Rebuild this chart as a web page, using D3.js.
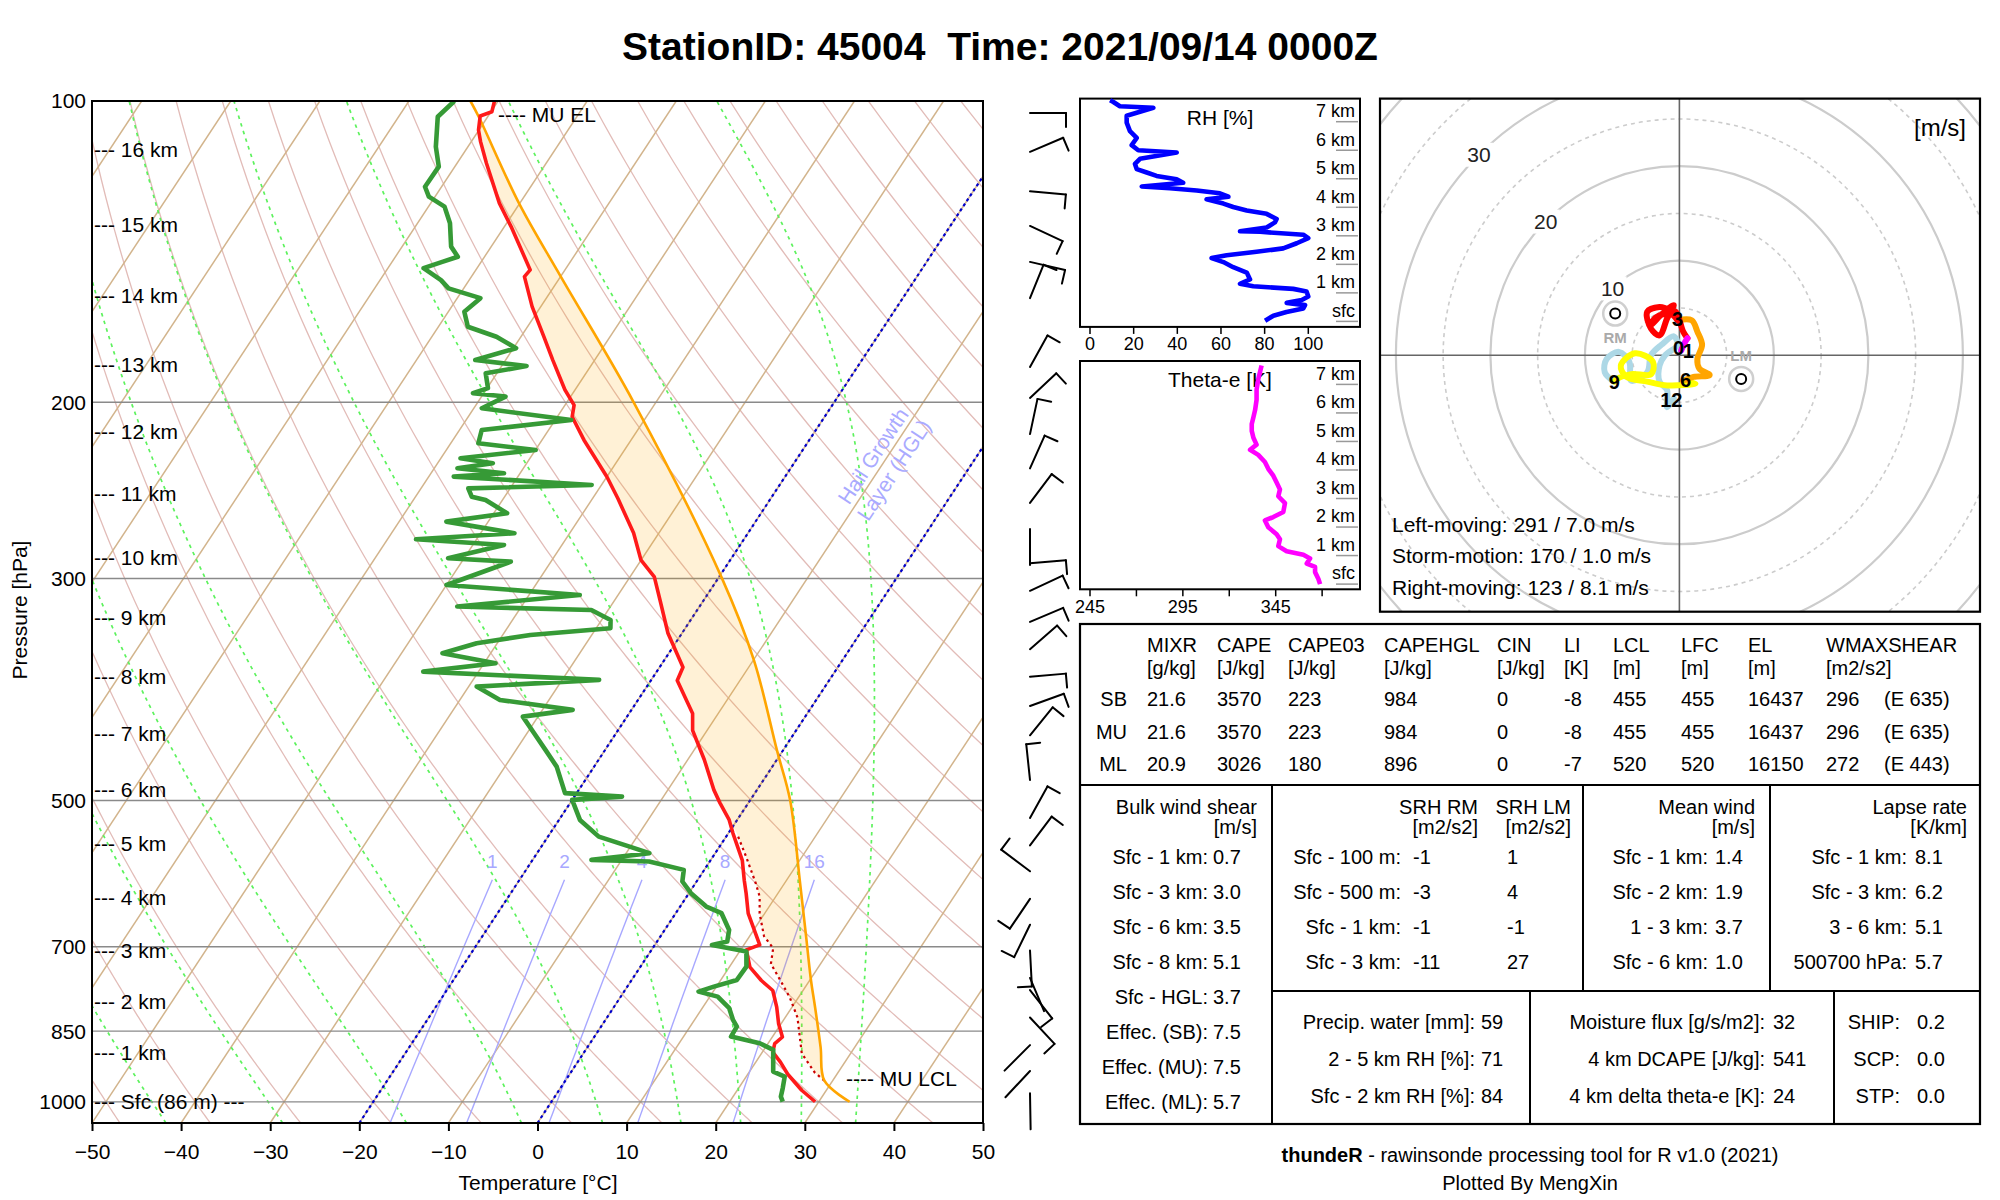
<!DOCTYPE html>
<html><head><meta charset="utf-8">
<script src="https://cdn.jsdelivr.net/npm/d3@7"></script>
<style>body{margin:0;background:#fff}svg text{font-family:"Liberation Sans",Arial,Helvetica,sans-serif;white-space:pre}</style>
</head><body>
<svg id="c" width="2000" height="1200" xmlns="http://www.w3.org/2000/svg"></svg>
<script>
// ================= DATA =================
const titleText = "StationID: 45004  Time: 2021/09/14 0000Z";
const pressureTicks = [100,200,300,500,700,850,1000];
const isobarLevels = [200,300,500,700,850,1000];
const tempTicks = [-50,-40,-30,-20,-10,0,10,20,30,40,50];
const heightLabels = ["16 km","15 km","14 km","13 km","12 km","11 km","10 km","9 km","8 km","7 km","6 km","5 km","4 km","3 km","2 km","1 km","Sfc (86 m) ---"];
const heightLabelP = [111.9,133,156.6,183.5,213.9,246.6,285.8,328.6,375.9,428.4,487.3,552.7,625,706.3,794.5,893.6,999.6];
const dryThetaC = d3.range(-50,221,10);
const isothermT = d3.range(-130,51,10);
const hglIsotherms = [-20,0];
const moistStartT = [-41.7,-28.6,-14.7,-1.8,7.3,16.1,22.8,29.6,35.7];
const mixRatios = [1,2,4,8,16];

// environmental temperature
const tempP = [100,102.5,103.5,106.9,109.8,115.4,126.5,133.5,147.5,149.8,160.5,171.9,181.6,194.3,201.3,206.8,218.1,237.4,249.6,270.2,287.6,298.9,315.4,340.3,367.9,379.3,409.3,425.4,455.2,487.9,502.7,522.8,539.2,573.7,600.6,619.3,648.3,673,697,705.1,733.5,756.5,774.1,804.3,835.6,861.5,874.9,892.1,912.9,938.5,973.8,999.9];
const tempT = [-80.4,-79.9,-80.9,-80.05,-78.96,-76.7,-72.3,-69.25,-63.9,-64.05,-60.97,-57.46,-54.67,-51.15,-48.98,-48.33,-45.3,-40.0,-37.15,-32.84,-30.0,-27.27,-24.9,-21.57,-17.38,-17.04,-12.87,-11.63,-8.14,-4.84,-3.2,-0.9,0.52,3.56,5.25,6.45,8.15,10.02,11.77,10.64,12.31,14.59,16.61,18.28,19.72,21.13,20.76,21.17,22.77,24.48,27.23,29.59];
// dew point
const dewP = [100,103.7,111.1,116.3,121.8,124.6,127.5,132.5,139.8,143.1,144.7,146.9,151,153.9,157.4,162.4,168.1,172,176.6,181.5,184,187.1,193.6,195.9,197.4,202.8,208.3,213.2,219.8,223.2,227.5,230.1,232.8,235.5,237.3,241.9,243.8,248.5,250.4,258.2,263.2,270.3,274.1,277.7,286.3,288.6,304.5,311.6,320,322.5,330,336.4,341.6,348.2,356.3,364.6,371.7,378.8,384.7,396.7,405.9,412.2,428.3,445,462.5,491.6,495.5,499.3,522.8,543.3,555.9,564.4,573.2,575.4,586.5,602.4,618.8,638.2,648,673.4,691.7,697,702.3,707.8,732.6,755.5,767.2,776.1,785.1,806.3,828.3,841.2,860.7,873.9,887.4,911.6,932.8,943.6,969.2,988.1,999.5];
const dewT = [-84.9,-85.6,-83.6,-81.8,-81.86,-80.7,-78.2,-76.35,-74.5,-73.0,-74.3,-76.0,-73.16,-71.7,-67.4,-68.2,-66.7,-62.75,-59.7,-63.4,-57.2,-61.25,-59.9,-61.2,-57.3,-59.1,-48.2,-57.5,-56.9,-49.97,-57.8,-53.8,-57.4,-51.8,-57.2,-41.1,-54.7,-53.7,-51.9,-48.5,-54.7,-46.2,-56.8,-46.5,-51.8,-44.5,-50.0,-34.3,-47.2,-31.9,-29.0,-28.4,-36.9,-42.3,-45.4,-38.7,-46.2,-25.85,-39.1,-35.5,-26.6,-31.7,-29.2,-26.7,-24.2,-21.3,-14.65,-20.0,-17.65,-14.3,-10.1,-7.4,-13.4,-6.8,-2.3,-1.6,0.23,2.94,5.14,7.23,7.88,6.41,8.6,10.77,11.88,11.8,9.71,8.36,10.88,13.03,14.32,15.25,15.33,19.04,21.05,21.91,22.65,24.31,24.95,25.36,25.94];
// virtual temperature (dotted)
const tvP = [952.6,934.7,894.6,855.4,823.6,786.7,756.5,727.9,702.4,683,648.3,623.8,605,569.3,539.2];
const tvT = [29.07,27.37,24.51,22.81,21.37,19.04,16.73,14.42,13.53,11.6,9.43,8.2,6.78,3.75,0.95];
// most-unstable parcel
const parcelP = [999.9,952.6,882,804,756.5,683,628.3,600.6,499.7,445.3,362,298.9,200,149.8,126.5,103.7,100];
const parcelT = [33.46,29.07,26.17,22.57,20.16,16.32,13.18,11.48,4.49,-0.7,-9.94,-19.75,-42.5,-59.97,-70.1,-81.0,-83.1];
const muLclP = 952.6, muElP = 103.7;

// wind barbs
const barbP = [102.8,112.4,123.1,133.3,144.8,157.4,184.4,198,215.2,232.9,252.1,289.7,290.8,308.6,331.5,353,376.1,402.3,430.3,476.9,520.4,554.3,588.4,626.9,665.4,706.1,752.1,773.3,823.8,877.8,931.5,980.8];
const barbDir = [90,67,95,115,103,22,29,47,12,24,37,85,0,65,67,49,85,70,39,354,29,37,307,214,206,177,157,142,137,225,223,179];
const barbSpd = [5,5,5,5,5,5,5,5,5,5,5,5,2,5,5,5,5,5,5,5,5,5,5,5,5,5,2,5,5,2,2,2];

// RH profile
const rhH = [0.02,0.2,0.33,0.45,0.57,0.65,0.75,0.87,1.05,1.14,1.23,1.32,1.47,1.71,1.9,2.08,2.22,2.32,2.44,2.56,2.74,2.92,3.04,3.14,3.16,3.29,3.47,3.59,3.77,3.89,4.01,4.13,4.28,4.37,4.49,4.59,4.67,4.73,4.86,4.98,5.1,5.22,5.34,5.52,5.7,5.92,6.0,6.18,6.43,6.67,6.97,7.21,7.49,7.54,7.69,7.75];
const rhV = [80.2,84,90,97.7,98.5,90.1,97,100,99.2,93.1,74.8,68.7,73.3,71.8,65.6,61.1,55.7,62.6,76.3,88.5,94.7,100,97.7,77.9,68.7,80.9,84.7,85.5,80.9,71.8,65.6,61.1,53.4,63.4,59.5,48.9,36.6,23.7,42.7,39.7,30.5,26,21.4,20.6,22.9,39.7,22.1,19.1,21.4,18.3,16.8,16.8,29,13.7,10.7,9.2];
const rhTicks = [0,20,40,60,80,100];
// theta-e profile
const theH = [0,0.18,0.42,0.6,0.72,0.9,1.03,1.15,1.33,1.57,1.75,1.99,2.23,2.35,2.53,2.84,3.08,3.32,3.56,3.8,4.04,4.28,4.53,4.71,4.89,5.13,5.37,5.61,5.85,6.1,6.46,6.82,7.18,7.66];
const theV = [368.9,368,366.2,366.2,361.7,363.5,359.9,350.9,346.4,347.3,345.5,341,339.2,343.7,349.1,350,346.4,347.3,345.5,343.7,341,339.2,335.6,331.2,334.7,333,332.1,332.1,333,333.9,334.7,334.7,335.6,337.4];
const theTicks = [245,270,295,320,345,370];
const theLabels = [245,295,345];
const kmLabels = ["sfc","1 km","2 km","3 km","4 km","5 km","6 km","7 km"];

// hodograph (m/s)
const hodo01U = [0.2,0.5,0.85], hodo01V = [0.5,1.2,1.8];
const hodo03U = [0.85,0.4,-0.4,-1.3,-2.1,-3.4,-3.0,-2.1,-1.3,-0.6,-1.9,-3.0,-2.5,-1.0,-0.2];
const hodo03V = [1.8,2.5,4.6,4.9,5.1,4.6,2.8,2.1,3.9,5.3,4.3,3.2,4.0,4.4,3.7];
const hodo36U = [-0.2,1.3,1.9,2.4,1.9,2.1,3.2,1.5,0.4];
const hodo36V = [3.7,3.7,2.5,1.1,-0.4,-1.4,-2.1,-2.3,-2.7];
const hodo69U = [0.4,1.7,-1.3,-3.4,-5.6,-6.2,-4.7,-2.8,-3.0,-5.1,-6.6,-6.9];
const hodo69V = [-2.7,-3.0,-3.2,-2.8,-2.3,-1.1,0.2,-0.7,-2.0,-2.0,-2.5,-2.8];
const hodo912U = [-6.9,-7.9,-7.7,-6.4,-5.3,-5.1,-3.4,-3.0,-1.9,-0.6,-0.2,-1.5,-2.1,-2.1,-1.3,-1.3,-0.6];
const hodo912V = [-2.8,-1.8,-0.4,0.35,-0.7,-2.7,-1.8,0,1.1,2.0,1.1,0,-1.1,-2.8,-3.7,-5.5,-4.6];
const hodoLabelText = ["0","1","3","6","9","12"];
const hodoLabelU = [-0.1,0.95,-0.2,0.64,-6.9,-0.85];
const hodoLabelV = [0.8,0.4,3.8,-2.65,-2.84,-4.7];
const hodoRings = [5,10,15,20,25,30,35,40];
const hodoRingLabels = [10,20,30];
const leftMoving = {dir:291, spd:7.0};
const stormMotion = {dir:170, spd:1.0};
const rightMoving = {dir:123, spd:8.1};

// table
const paramHeaders = ["MIXR","CAPE","CAPE03","CAPEHGL","CIN","LI","LCL","LFC","EL","WMAXSHEAR"];
const paramUnits = ["[g/kg]","[J/kg]","[J/kg]","[J/kg]","[J/kg]","[K]","[m]","[m]","[m]","[m2/s2]"];
const parcelNames = ["SB","MU","ML"];
const parcelRows = [[21.6,3570,223,984,0,-8,455,455,16437,296],[21.6,3570,223,984,0,-8,455,455,16437,296],[20.9,3026,180,896,0,-7,520,520,16150,272]];
const effShear = ["(E 635)","(E 635)","(E 443)"];
const bwsLabels = ["Sfc - 1 km:","Sfc - 3 km:","Sfc - 6 km:","Sfc - 8 km:","Sfc - HGL:","Effec. (SB):","Effec. (MU):","Effec. (ML):"];
const bwsValues = [0.7,3.0,3.5,5.1,3.7,7.5,7.5,5.7];
const srhLabels = ["Sfc - 100 m:","Sfc - 500 m:","Sfc - 1 km:","Sfc - 3 km:"];
const srhRM = [-1,-3,-1,-11];
const srhLM = [1,4,-1,27];
const mwLabels = ["Sfc - 1 km:","Sfc - 2 km:","1 - 3 km:","Sfc - 6 km:"];
const mwValues = [1.4,1.9,3.7,1.0];
const lrLabels = ["Sfc - 1 km:","Sfc - 3 km:","3 - 6 km:","500700 hPa:"];
const lrValues = [8.1,6.2,5.1,5.7];
const moistLabels = ["Precip. water [mm]:","2 - 5 km RH [%]:","Sfc - 2 km RH [%]:"];
const moistValues = [59,71,84];
const miscLabels = ["Moisture flux [g/s/m2]:","4 km DCAPE [J/kg]:","4 km delta theta-e [K]:"];
const miscValues = [32,541,24];
const compLabels = ["SHIP:","SCP:","STP:"];
const compValues = [0.2,0.0,0.0];

// ================= HELPERS =================
const svg = d3.select("#c");
const defs = svg.append("defs");
function txt(g,x,y,s,o={}){
  return g.append("text").attr("x",x).attr("y",y).attr("dy",o.dy||"0.35em")
    .attr("text-anchor",o.anchor||"start").attr("font-size",o.size||20)
    .attr("font-weight",o.weight||"normal").attr("fill",o.fill||"#000").text(s);
}
const zip=(a,b)=>a.map((v,i)=>[v,b[i]]);

// ================= TITLE =================
txt(svg,1000,46,titleText,{anchor:"middle",size:39,weight:"bold"});

// ================= SKEW-T =================
const P0=1050, PT=100, L=92, R=983, T0=101, B0=1123;
const yP = d3.scaleLog().domain([P0,PT]).range([B0,T0]);
const xT = d3.scaleLinear().domain([-50,50]).range([L,R]);
const SKEW = 32.14;
const X = (T,p)=>xT(T+SKEW*Math.log(P0/p));
defs.append("clipPath").attr("id","skc").append("rect").attr("x",L).attr("y",T0).attr("width",R-L).attr("height",B0-T0);
const sk = svg.append("g").attr("clip-path","url(#skc)");
const tpLine = d3.line().x(d=>X(d[0],d[1])).y(d=>yP(d[1]));
const pGrid = d3.range(P0,PT-0.1,-5);

// dry adiabats
dryThetaC.forEach(th=>{
  const pts=pGrid.map(p=>[(th+273.15)*Math.pow(p/1000,0.2857)-273.15,p]);
  sk.append("path").attr("d",tpLine(pts)).attr("fill","none").attr("stroke","#e2bcb8").attr("stroke-width",1.3);
});
// isotherms
isothermT.forEach(t=>{
  sk.append("path").attr("d",tpLine([[t,P0],[t,PT]])).attr("fill","none").attr("stroke","#d2b48c").attr("stroke-width",1.5);
});
// moist adiabats
function esat(Tc){return 6.112*Math.exp(17.67*Tc/(Tc+243.5));}
function dTdp(Tk,p){
  const Rd=287.04,cp=1005.7,Lv=2.501e6,eps=0.622;
  const e=esat(Tk-273.15), rs=eps*e/Math.max(p-e,1);
  return (Rd*Tk+Lv*rs)/(p*(cp+Lv*Lv*rs*eps/(Rd*Tk*Tk)));
}
moistStartT.forEach(t0=>{
  let T=t0+273.15; const pts=[];
  for(let p=P0;p>=PT;p-=2){
    pts.push([T-273.15,p]);
    const dp=-2, k1=dTdp(T,p), k2=dTdp(T+k1*dp/2,p+dp/2); T+=k2*dp;
  }
  sk.append("path").attr("d",tpLine(pts)).attr("fill","none").attr("stroke","#5df25d")
    .attr("stroke-width",1.7).attr("stroke-dasharray","3.5,4.5");
});
// mixing ratio lines
function tdFromW(w,p){const e=w*p/(622+w), l=Math.log(e/6.112); return 243.5*l/(17.67-l);}
mixRatios.forEach(w=>{
  const pts=d3.range(P0,599,-10).map(p=>[tdFromW(w,p),p]);
  sk.append("path").attr("d",tpLine(pts)).attr("fill","none").attr("stroke","#a8a8ff").attr("stroke-width",1.4);
  txt(sk,X(tdFromW(w,600),600),yP(600)-18,String(w),{anchor:"middle",size:19,fill:"#a8a8ff"});
});
// isobars
isobarLevels.forEach(p=>{
  sk.append("line").attr("x1",L).attr("x2",R).attr("y1",yP(p)).attr("y2",yP(p)).attr("stroke","#8a8a8a").attr("stroke-width",1.3);
});
// hail growth layer isotherms
hglIsotherms.forEach(t=>{
  sk.append("path").attr("d",tpLine([[t,P0],[t,PT]])).attr("fill","none").attr("stroke","#0000cd")
    .attr("stroke-width",2.2).attr("stroke-dasharray","3,3");
});
const ang = -Math.atan2(yP(100)-yP(1000), X(0,100)-X(0,1000))*180/Math.PI;
[["Hail Growth",873,456],["Layer (HGL)",894,470]].forEach(d=>{
  sk.append("text").attr("transform",`translate(${d[1]},${d[2]}) rotate(${-ang})`).attr("text-anchor","middle")
    .attr("dy","0.35em").attr("font-size",21).attr("fill","#aaaaff").text(d[0]);
});

// CAPE shading (parcel drawn with the same curve as the parcel line)
const pLinePx = d3.line().curve(d3.curveCatmullRom.alpha(0.5));
const parcelPts = zip(parcelT,parcelP);
const envT = zip(tempT,tempP).filter(d=>d[1]>=muElP && d[1]<539.2);
const envTv = zip(tvT,tvP);
const parcelSeg = parcelPts.filter(d=>d[1]<=muLclP && d[1]>=muElP);
const envPoly = envT.concat(envTv).sort((a,b)=>a[1]-b[1]);
const shadeTop = pLinePx(parcelSeg.map(d=>[X(d[0],d[1]),yP(d[1])]));
const shadeBack = d3.line()(envPoly.map(d=>[X(d[0],d[1]),yP(d[1])])).replace(/^M/,"L");
sk.append("path").attr("d",shadeTop+shadeBack+"Z").attr("fill","#ffa500").attr("fill-opacity",0.16).attr("stroke","none");

// virtual temperature dotted
sk.append("path").attr("d",tpLine(envTv)).attr("fill","none").attr("stroke","#cc0000").attr("stroke-width",2.2).attr("stroke-dasharray","2.5,3.5");
// parcel
sk.append("path").attr("d",pLinePx(parcelPts.map(d=>[X(d[0],d[1]),yP(d[1])]))).attr("fill","none").attr("stroke","#ffa500").attr("stroke-width",2.6);
// temperature
sk.append("path").attr("d",tpLine(zip(tempT,tempP))).attr("fill","none").attr("stroke","#ff1a1a").attr("stroke-width",3.6).attr("stroke-linejoin","round");
// dewpoint
sk.append("path").attr("d",tpLine(zip(dewT,dewP))).attr("fill","none").attr("stroke","#369a36").attr("stroke-width",4.6).attr("stroke-linejoin","round");

// labels MU EL / LCL
txt(svg,498,yP(muElP)-2,"---- MU EL",{size:21});
txt(svg,846,yP(muLclP)-2,"---- MU LCL",{size:21});

// height labels
heightLabels.forEach((s,i)=>txt(svg,94,yP(heightLabelP[i]),"--- "+s,{size:21}));
// frame
svg.append("rect").attr("x",L).attr("y",T0).attr("width",R-L).attr("height",B0-T0).attr("fill","none").attr("stroke","#000").attr("stroke-width",2);
// pressure labels
pressureTicks.forEach(p=>txt(svg,86,yP(p),String(p),{anchor:"end",size:21}));
// temperature axis
const ax = svg.append("g").attr("transform",`translate(0,${B0})`).call(d3.axisBottom(xT).tickValues(tempTicks).tickSize(8).tickPadding(13).tickFormat(d3.format("d")));
ax.select(".domain").remove();
ax.selectAll("line").attr("stroke","#000").attr("stroke-width",2);
ax.selectAll("text").attr("font-size",21).attr("font-family","Liberation Sans, Arial, sans-serif").attr("fill","#000");
txt(svg,538,1183,"Temperature [°C]",{anchor:"middle",size:21});
svg.append("text").attr("transform","translate(20,610) rotate(-90)").attr("text-anchor","middle").attr("dy","0.35em").attr("font-size",21).text("Pressure [hPa]");

// ================= WIND BARBS =================
const wb = svg.append("g").attr("stroke","#000").attr("stroke-width",2).attr("fill","none").attr("stroke-linecap","round");
barbP.forEach((p,i)=>{
  const a=barbDir[i]*Math.PI/180, ox=1030, oy=yP(p);
  const vx=Math.sin(a), vy=-Math.cos(a);
  const ex=ox+36*vx, ey=oy+36*vy;
  wb.append("line").attr("x1",ox).attr("y1",oy).attr("x2",ex).attr("y2",ey);
  if(barbSpd[i]>=2.5){
    wb.append("line").attr("x1",ex).attr("y1",ey).attr("x2",ex-vy*14).attr("y2",ey+vx*14);
  }
});

// ================= RH / THETA-E PANELS =================
function profilePanel(top,bottom,xs,kmY,ticks,labels,title,hs,vs,color){
  const g=svg.append("g");
  g.append("rect").attr("x",1080).attr("y",top).attr("width",280).attr("height",bottom-top).attr("fill","#fff").attr("stroke","#000").attr("stroke-width",2);
  kmLabels.forEach((s,i)=>{
    const y=kmY(i);
    g.append("line").attr("x1",1336).attr("x2",1358).attr("y1",y).attr("y2",y).attr("stroke","#999").attr("stroke-width",1.5);
    txt(g,1355,y-11,s,{anchor:"end",size:18});
  });
  txt(g,1220,top+19,title,{anchor:"middle",size:21});
  g.append("path").attr("d",d3.line().x(d=>xs(d[1])).y(d=>kmY(d[0]))(zip(hs,vs))).attr("fill","none").attr("stroke",color).attr("stroke-width",4.6).attr("stroke-linejoin","round");
  ticks.forEach(t=>{
    g.append("line").attr("x1",xs(t)).attr("x2",xs(t)).attr("y1",bottom).attr("y2",bottom+7).attr("stroke","#000").attr("stroke-width",1.5);
  });
  labels.forEach(t=>txt(g,xs(t),bottom+17,String(t),{anchor:"middle",size:18}));
}
profilePanel(98.6,326.9,d3.scaleLinear().domain([0,100]).range([1090,1308.3]),d3.scaleLinear().domain([0,7]).range([321.4,121.7]),rhTicks,rhTicks,"RH [%]",rhH,rhV,"#0000ff");
profilePanel(361,589.3,d3.scaleLinear().domain([245,345]).range([1090,1275.7]),d3.scaleLinear().domain([0,7]).range([584.1,384.4]),theTicks,theLabels,"Theta-e [K]",theH,theV,"#ff00ff");

// ================= HODOGRAPH =================
const hx0=1380,hy0=98.6,hx1=1980,hy1=611.7, hcx=1679.4, hcy=355.2;
const hs = d3.scaleLinear().domain([0,10]).range([0,94.5]);
defs.append("clipPath").attr("id","hdc").append("rect").attr("x",hx0).attr("y",hy0).attr("width",hx1-hx0).attr("height",hy1-hy0);
const hg = svg.append("g").attr("clip-path","url(#hdc)");
hodoRings.forEach(r=>{
  hg.append("circle").attr("cx",hcx).attr("cy",hcy).attr("r",hs(r)).attr("fill","none").attr("stroke","#cccccc")
    .attr("stroke-width",r%10===0?2.2:1.6).attr("stroke-dasharray",r%10===0?null:"4,4");
});
hg.append("line").attr("x1",hx0).attr("x2",hx1).attr("y1",hcy).attr("y2",hcy).attr("stroke","#666").attr("stroke-width",1.6);
hg.append("line").attr("x1",hcx).attr("x2",hcx).attr("y1",hy0).attr("y2",hy1).attr("stroke","#666").attr("stroke-width",1.6);
hodoRingLabels.forEach(r=>{
  const x=hcx-hs(r)*Math.SQRT1_2, y=hcy-hs(r)*Math.SQRT1_2;
  hg.append("rect").attr("x",x-14).attr("y",y-12).attr("width",28).attr("height",24).attr("fill","#fff");
  txt(hg,x,y,String(r),{anchor:"middle",size:21,fill:"#222"});
});
const HX=u=>hcx+hs(u), HY=v=>hcy-hs(v);
const hline = d3.line().x(d=>HX(d[0])).y(d=>HY(d[1])).curve(d3.curveCatmullRom.alpha(0.5));
[[hodo912U,hodo912V,"#add8e6"],[hodo69U,hodo69V,"#ffff00"],[hodo36U,hodo36V,"#ffa500"],[hodo03U,hodo03V,"#ff0000"],[hodo01U,hodo01V,"#ff00ff"]].forEach(s=>{
  hg.append("path").attr("d",hline(zip(s[0],s[1]))).attr("fill","none").attr("stroke",s[2]).attr("stroke-width",6).attr("stroke-linejoin","round").attr("stroke-linecap","round");
});
hodoLabelText.forEach((s,i)=>txt(hg,HX(hodoLabelU[i]),HY(hodoLabelV[i]),s,{anchor:"middle",size:20,weight:"bold"}));
function motionUV(m){const a=m.dir*Math.PI/180; return [-m.spd*Math.sin(a),-m.spd*Math.cos(a)];}
[[rightMoving,"RM",24],[leftMoving,"LM",-23]].forEach(d=>{
  const uv=motionUV(d[0]), x=HX(uv[0]), y=HY(uv[1]);
  hg.append("circle").attr("cx",x).attr("cy",y).attr("r",12).attr("fill","#fff").attr("stroke","#cfcfcf").attr("stroke-width",2.5);
  hg.append("circle").attr("cx",x).attr("cy",y).attr("r",5).attr("fill","none").attr("stroke","#000").attr("stroke-width",2);
  txt(hg,x,y+d[2],d[1],{anchor:"middle",size:15,weight:"bold",fill:"#aaaaaa"});
});
txt(svg,1940,128,"[m/s]",{anchor:"middle",size:24});
const fm=m=>`${m.dir} / ${m.spd.toFixed(1)} m/s`;
txt(svg,1392,524.6,"Left-moving: "+fm(leftMoving),{size:21});
txt(svg,1392,555.6,"Storm-motion: "+fm(stormMotion),{size:21});
txt(svg,1392,587.6,"Right-moving: "+fm(rightMoving),{size:21});
svg.append("rect").attr("x",hx0).attr("y",hy0).attr("width",hx1-hx0).attr("height",hy1-hy0).attr("fill","none").attr("stroke","#000").attr("stroke-width",2.2);

// ================= TABLE =================
const tb = svg.append("g");
const tl = (x1,y1,x2,y2)=>tb.append("line").attr("x1",x1).attr("y1",y1).attr("x2",x2).attr("y2",y2).attr("stroke","#000").attr("stroke-width",2);
tb.append("rect").attr("x",1080).attr("y",624).attr("width",900).attr("height",500).attr("fill","none").attr("stroke","#000").attr("stroke-width",2.2);
tl(1080,785,1980,785); tl(1272,785,1272,1124); tl(1583,785,1583,991); tl(1770,785,1770,991);
tl(1272,991,1980,991); tl(1530,991,1530,1124); tl(1834,991,1834,1124);
const colX = [1147,1217,1288,1384,1497,1564,1613,1681,1748,1826];
const FS=20;
paramHeaders.forEach((h,i)=>{txt(tb,colX[i],645,h,{size:FS}); txt(tb,colX[i],668,paramUnits[i],{size:FS});});
const rowY=[699,731.7,764.3];
parcelNames.forEach((n,r)=>{
  txt(tb,1127,rowY[r],n,{anchor:"end",size:FS});
  parcelRows[r].forEach((v,i)=>txt(tb,colX[i],rowY[r],String(v),{size:FS}));
  txt(tb,1884,rowY[r],effShear[r],{size:FS});
});
const lowY=[856.7,891.7,926.7,961.7,996.7,1031.7,1066.7,1101.7];
txt(tb,1257,806.7,"Bulk wind shear",{anchor:"end",size:FS}); txt(tb,1257,826.7,"[m/s]",{anchor:"end",size:FS});
bwsLabels.forEach((s,i)=>{txt(tb,1208,lowY[i],s,{anchor:"end",size:FS}); txt(tb,1213,lowY[i],bwsValues[i].toFixed(1),{size:FS});});
txt(tb,1478,806.7,"SRH RM",{anchor:"end",size:FS}); txt(tb,1478,826.7,"[m2/s2]",{anchor:"end",size:FS});
txt(tb,1571,806.7,"SRH LM",{anchor:"end",size:FS}); txt(tb,1571,826.7,"[m2/s2]",{anchor:"end",size:FS});
srhLabels.forEach((s,i)=>{txt(tb,1401,lowY[i],s,{anchor:"end",size:FS}); txt(tb,1413,lowY[i],String(srhRM[i]),{size:FS}); txt(tb,1507,lowY[i],String(srhLM[i]),{size:FS});});
txt(tb,1755,806.7,"Mean wind",{anchor:"end",size:FS}); txt(tb,1755,826.7,"[m/s]",{anchor:"end",size:FS});
mwLabels.forEach((s,i)=>{txt(tb,1708,lowY[i],s,{anchor:"end",size:FS}); txt(tb,1715,lowY[i],mwValues[i].toFixed(1),{size:FS});});
txt(tb,1967,806.7,"Lapse rate",{anchor:"end",size:FS}); txt(tb,1967,826.7,"[K/km]",{anchor:"end",size:FS});
lrLabels.forEach((s,i)=>{txt(tb,1907,lowY[i],s,{anchor:"end",size:FS}); txt(tb,1915,lowY[i],lrValues[i].toFixed(1),{size:FS});});
const boxY=[1021.7,1059.3,1096];
moistLabels.forEach((s,i)=>{txt(tb,1475,boxY[i],s,{anchor:"end",size:FS}); txt(tb,1481,boxY[i],String(moistValues[i]),{size:FS});});
miscLabels.forEach((s,i)=>{txt(tb,1765,boxY[i],s,{anchor:"end",size:FS}); txt(tb,1773,boxY[i],String(miscValues[i]),{size:FS});});
compLabels.forEach((s,i)=>{txt(tb,1900,boxY[i],s,{anchor:"end",size:FS}); txt(tb,1917,boxY[i],compValues[i].toFixed(1),{size:FS});});

// footer
const ft = svg.append("text").attr("x",1530).attr("y",1155).attr("dy","0.35em").attr("text-anchor","middle").attr("font-size",20);
ft.append("tspan").attr("font-weight","bold").text("thundeR");
ft.append("tspan").text(" - rawinsonde processing tool for R v1.0 (2021)");
txt(svg,1530,1183.3,"Plotted By MengXin",{anchor:"middle",size:20});
</script>
</body></html>
